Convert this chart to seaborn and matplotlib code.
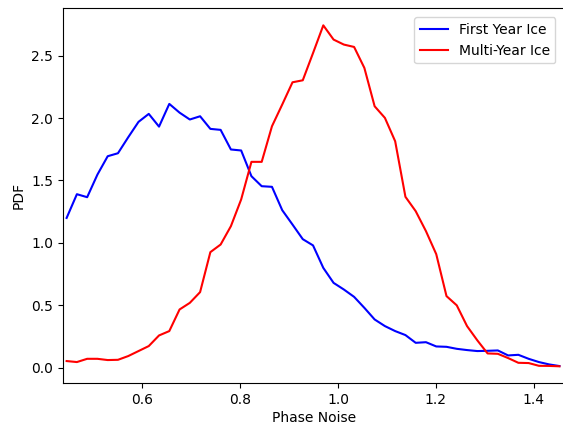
import numpy as np
import pandas as pd
import matplotlib
matplotlib.use("Agg")
import matplotlib.pyplot as plt
import seaborn as sns

# bin centres of the phase-noise histograms
phase_noise = [0.445, 0.466, 0.487, 0.508, 0.529, 0.550, 0.571, 0.592, 0.613, 0.634,
               0.655, 0.676, 0.697, 0.718, 0.739, 0.760, 0.781, 0.802, 0.823, 0.844,
               0.865, 0.886, 0.907, 0.928, 0.949, 0.970, 0.991, 1.012, 1.033, 1.054,
               1.075, 1.096, 1.117, 1.138, 1.159, 1.180, 1.201, 1.222, 1.243, 1.264,
               1.285, 1.306, 1.327, 1.348, 1.369, 1.390, 1.411, 1.432, 1.453]

# PDF values
pdf_fyi = [1.20, 1.39, 1.366, 1.547, 1.694, 1.718, 1.846, 1.969, 2.033, 1.931,
           2.113, 2.043, 1.988, 2.014, 1.913, 1.905, 1.748, 1.740, 1.534, 1.454,
           1.449, 1.262, 1.147, 1.03, 0.98, 0.80, 0.68, 0.627, 0.568, 0.480,
           0.387, 0.334, 0.294, 0.262, 0.200, 0.205, 0.171, 0.168, 0.152, 0.142,
           0.134, 0.136, 0.139, 0.099, 0.104, 0.072, 0.046, 0.027, 0.014]

pdf_myi = [0.054, 0.046, 0.072, 0.072, 0.062, 0.064, 0.094, 0.134, 0.174, 0.259,
           0.294, 0.467, 0.52, 0.606, 0.926, 0.987, 1.134, 1.348, 1.649, 1.649,
           1.934, 2.108, 2.286, 2.302, 2.52, 2.742, 2.628, 2.588, 2.569, 2.401,
           2.094, 2.001, 1.814, 1.369, 1.254, 1.094, 0.91, 0.574, 0.50, 0.334,
           0.22, 0.115, 0.112, 0.078, 0.040, 0.038, 0.016, 0.015, 0.012]

labels = ['First Year Ice', 'Multi-Year Ice']
colors = ['blue', 'red']

df = pd.DataFrame({'phase_noise': phase_noise, 'fyi': pdf_fyi, 'myi': pdf_myi})

fig = plt.figure(figsize=(5.63, 4.25), dpi=100)
# right spine sits just past the image edge, as in the (cropped) original
ax = fig.add_axes([0.1114, 0.098, 0.8913, 0.8825])

for col, lab, c in zip(['fyi', 'myi'], labels, colors):
    sns.lineplot(data=df, x='phase_noise', y=col, color=c, label=lab, ax=ax, linewidth=1.5)

ax.set_xlim(0.437, 1.4634)
ax.set_xlabel('Phase Noise', labelpad=3)
ax.set_ylabel('PDF')
ax.legend(loc='upper right', borderaxespad=0.65)

fig.savefig('out.png', dpi=100)
